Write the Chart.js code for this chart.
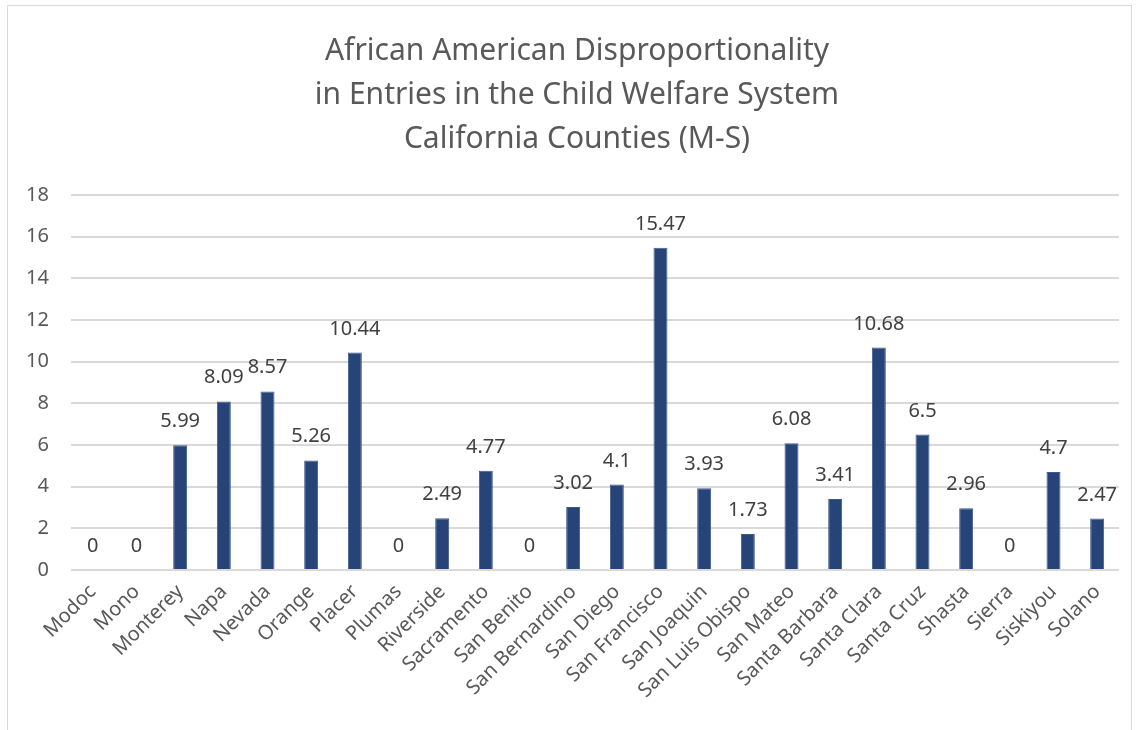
<!DOCTYPE html>
<html>
<head>
<meta charset="utf-8">
<script src="https://cdn.jsdelivr.net/npm/chart.js@4.4.0/dist/chart.umd.min.js"></script>
<style>
  html, body { margin: 0; padding: 0; background: #fff; }
  #wrap { position: relative; width: 1139px; height: 730px; }
  #frame { position: absolute; left: 7px; top: 5px; width: 1125px; height: 740px; border: 1px solid #d9d9d9; box-sizing: border-box; }
  canvas { position: absolute; left: 0; top: 0; }
</style>
</head>
<body>
<div id="wrap">
  <div id="frame"></div>
  <canvas id="barChart" width="1139" height="730"></canvas>
</div>
<script>
const titleLines = [
  'African American Disproportionality',
  'in Entries in the Child Welfare System',
  'California Counties (M-S)'
];
const counties = ['Modoc', 'Mono', 'Monterey', 'Napa', 'Nevada', 'Orange', 'Placer', 'Plumas',
  'Riverside', 'Sacramento', 'San Benito', 'San Bernardino', 'San Diego', 'San Francisco',
  'San Joaquin', 'San Luis Obispo', 'San Mateo', 'Santa Barbara', 'Santa Clara', 'Santa Cruz',
  'Shasta', 'Sierra', 'Siskiyou', 'Solano'];
const disproportionality = [0, 0, 5.99, 8.09, 8.57, 5.26, 10.44, 0, 2.49, 4.77, 0, 3.02, 4.1,
  15.47, 3.93, 1.73, 6.08, 3.41, 10.68, 6.5, 2.96, 0, 4.7, 2.47];
const yMax = 18;
const yStep = 2;

const textFont = '"Noto Sans", "Open Sans", sans-serif';

// title drawn by hand so the plot area can be placed exactly
const titlePlugin = {
  id: 'titleLines',
  afterDraw(chart) {
    const ctx = chart.ctx;
    ctx.save();
    ctx.fillStyle = '#595959';
    ctx.font = '30px ' + textFont;
    ctx.textAlign = 'center';
    ctx.textBaseline = 'middle';
    titleLines.forEach((line, i) => {
      ctx.fillText(line, 577, 51 + i * 44);
    });
    ctx.restore();
  }
};

// value labels above each bar
const valueLabels = {
  id: 'valueLabels',
  afterDatasetsDraw(chart) {
    const ctx = chart.ctx;
    const meta = chart.getDatasetMeta(0);
    ctx.save();
    ctx.fillStyle = '#404040';
    ctx.font = '20px ' + textFont;
    ctx.textAlign = 'center';
    ctx.textBaseline = 'alphabetic';
    meta.data.forEach((bar, i) => {
      ctx.fillText(String(disproportionality[i]), bar.x, bar.y - 18);
    });
    ctx.restore();
  }
};

const ctx = document.getElementById('barChart').getContext('2d');
new Chart(ctx, {
  type: 'bar',
  data: {
    labels: counties,
    datasets: [{
      data: disproportionality,
      backgroundColor: '#264478',
      borderColor: '#3d5a8c',
      borderWidth: 1,
      categoryPercentage: 1,
      barPercentage: 0.32
    }]
  },
  options: {
    responsive: false,
    animation: false,
    layout: { padding: { top: 195, right: 20, left: 0, bottom: 0 } },
    plugins: {
      legend: { display: false },
      tooltip: { enabled: false }
    },
    scales: {
      x: {
        grid: { display: false },
        border: { display: false },
        ticks: {
          color: '#595959',
          font: { family: textFont, size: 20 },
          minRotation: 45,
          maxRotation: 45,
          autoSkip: false,
          padding: 2
        },
        afterFit(scale) { scale.height = 160; }
      },
      y: {
        min: 0,
        max: yMax,
        ticks: {
          stepSize: yStep,
          color: '#595959',
          font: { family: textFont, size: 20 },
          padding: 22
        },
        grid: { color: '#d9d9d9', lineWidth: 2, drawTicks: false },
        border: { display: false },
        afterFit(scale) { scale.width = 71; }
      }
    }
  },
  plugins: [titlePlugin, valueLabels]
});
</script>
</body>
</html>
